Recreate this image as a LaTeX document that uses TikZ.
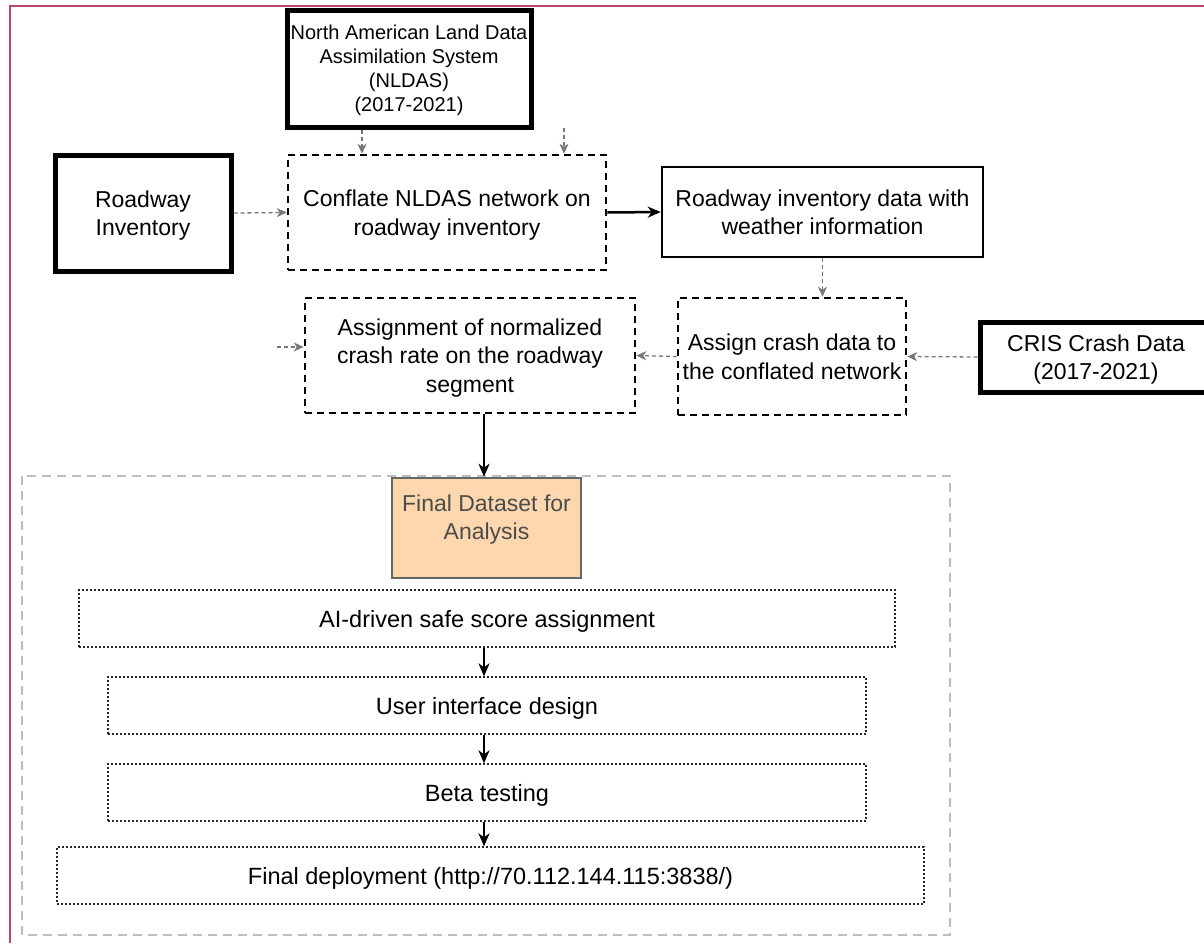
\documentclass[tikz,border=0pt]{standalone}
\usepackage{fontspec}
\setmainfont{Liberation Sans}
\usetikzlibrary{arrows.meta}
\definecolor{framepink}{RGB}{184,72,112}
\definecolor{peach}{RGB}{255,215,174}
\definecolor{arrgray}{RGB}{120,120,120}
\definecolor{contgray}{RGB}{190,190,190}
\tikzset{
  txt/.style={align=center, inner sep=2pt, text depth=0pt, font=\fontsize{23}{28.5}\selectfont},
  thickbox/.style={txt, draw=black, line width=5pt},
  plainbox/.style={txt, draw=black, line width=2.5pt},
  dashbox/.style={txt, draw=black, line width=2.5pt, dash pattern=on 7pt off 5pt},
  dotbox/.style={txt, draw=black!85, line width=1.3pt, dash pattern=on 2pt off 2pt, font=\fontsize{23.5}{28}\selectfont},
  grayarrow/.style={draw=arrgray, line width=1.3pt, dash pattern=on 4pt off 3pt, -{Stealth[length=10pt,width=9pt,inset=3pt]}},
  blackarrow/.style={draw=black, line width=2.5pt, -{Stealth[length=13pt,width=11pt,inset=4pt]}},
}
\begin{document}
\begin{tikzpicture}[x=1pt,y=-1pt]
\useasboundingbox (0,0) rectangle (1204,943);
\draw[framepink, line width=1.5pt] (10,943) -- (10,6) -- (1204,6);

% container
\draw[contgray, line width=2pt, dash pattern=on 9pt off 6pt] (22,476) rectangle (950,935);

\node[thickbox, minimum width=244pt, minimum height=117pt, font=\fontsize{20}{24}\selectfont] (nldas) at (409,68.5)
  {North American Land Data\\Assimilation System\\(NLDAS)\\(2017-2021)};
\node[dashbox, minimum width=318pt, minimum height=115pt] (conflate) at (447,212.5)
  {Conflate NLDAS network on\\roadway inventory};
\node[thickbox, minimum width=176pt, minimum height=116pt] (roadinv) at (143,213)
  {Roadway\\Inventory};
\node[plainbox, minimum width=321pt, minimum height=90pt] (rwdata) at (822.5,212)
  {Roadway inventory data with\\weather information};
\node[dashbox, minimum width=228pt, minimum height=117pt] (assign) at (792,356.5)
  {Assign crash data to\\the conflated network};
\node[thickbox, minimum width=232pt, minimum height=70pt] (cris) at (1096,357)
  {CRIS Crash Data\\(2017-2021)};
\node[dashbox, minimum width=330pt, minimum height=115pt] (assignment) at (470,355.5)
  {Assignment of normalized\\crash rate on the roadway\\segment};

\node[txt, draw=black!60, line width=2.5pt, fill=peach, minimum width=189pt, minimum height=100pt, text=black!70, text depth=22pt] (final) at (486.5,528)
  {Final Dataset for\\Analysis};

\node[dotbox, minimum width=816pt, minimum height=57pt] (ai) at (487,618.5) {AI-driven safe score assignment};
\node[dotbox, minimum width=758pt, minimum height=57pt] (ui) at (487,705.5) {User interface design};
\node[dotbox, minimum width=758pt, minimum height=57pt] (beta) at (487,792.5) {Beta testing};
\node[dotbox, minimum width=867pt, minimum height=57pt] (deploy) at (490.5,875.5) {Final deployment (http://70.112.144.115:3838/)};

% free ends
\coordinate (nfree) at (564,128);
\coordinate (afree) at (277,347);
\coordinate (ax) at (484,0);

% connectors
\draw[grayarrow] (nldas.south -| 362,0) -- (conflate.north -| 362,0);
\draw[grayarrow] (nfree) -- (conflate.north -| nfree);
\draw[grayarrow] (roadinv.east) -- (conflate.west);
\draw[blackarrow] (conflate.east) -- (rwdata.west);
\draw[grayarrow] (rwdata.south) -- (assign.north -| rwdata.south);
\draw[grayarrow] (cris.west) -- (assign.east);
\draw[grayarrow] (assign.west) -- (assignment.east);
\draw[grayarrow] (afree) -- (assignment.west |- afree);
\draw[blackarrow] (assignment.south -| ax) -- (final.north -| ax);
\draw[blackarrow] (ai.south -| ax) -- (ui.north -| ax);
\draw[blackarrow] (ui.south -| ax) -- (beta.north -| ax);
\draw[blackarrow] (beta.south -| ax) -- (deploy.north -| ax);
\end{tikzpicture}
\end{document}
